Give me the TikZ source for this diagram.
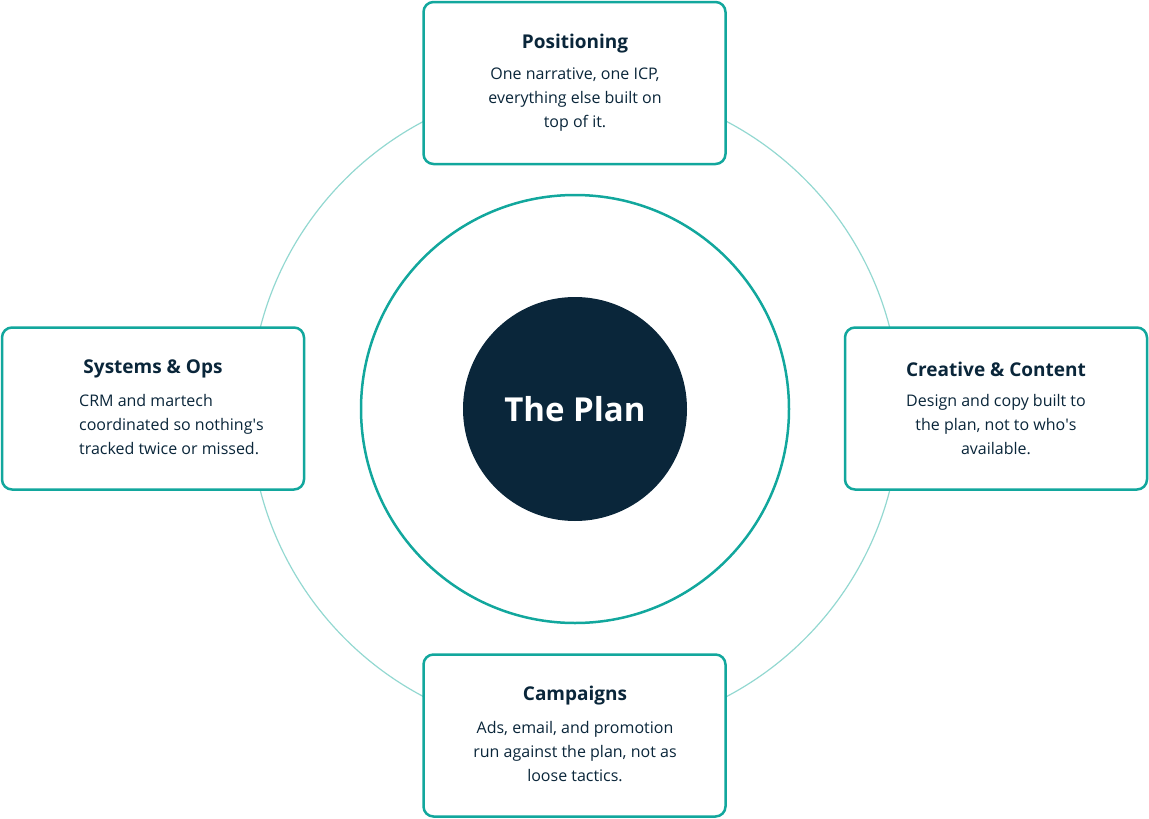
\documentclass[tikz,border=0pt]{standalone}
\usepackage{fontspec}
\setmainfont{Open Sans}
\definecolor{teal}{HTML}{12A79D}
\definecolor{lteal}{HTML}{93D8D1}
\definecolor{navy}{HTML}{0A263A}
\newcommand{\apo}{\textquotesingle}
\begin{document}
\begin{tikzpicture}[x=1pt,y=-1pt,
 box/.style={draw=teal,line width=2.5pt,rounded corners=10pt,fill=white,minimum width=302pt,minimum height=162pt,inner sep=0pt},
 ttl/.style={font=\fontsize{19}{23}\selectfont\bfseries,text=navy},
 body/.style={font=\fontsize{16}{24}\selectfont,text=navy,align=center}]
\useasboundingbox (0,0) rectangle (1149,819);
\draw[lteal,line width=1.2pt] (575,409) circle (325);
\draw[teal,line width=2.5pt] (575,409) circle (214);
\node[circle,fill=navy,minimum size=224pt,inner sep=0pt,text=white,font=\fontsize{33}{36}\selectfont\bfseries] (plan) at (575,409) {The Plan};
\node[box] (pos) at (574.5,83) {};
\node[box] (sys) at (153,408.5) {};
\node[box] (cre) at (996,408.5) {};
\node[box] (cam) at (574.5,735.5) {};
\node[ttl] (posT) at (575,44) {Positioning};
\node[body] (posB) at (575,100) {One narrative, one ICP,\\everything else built on\\top of it.};
\node[ttl] (sysT) at (153,369) {Systems \& Ops};
\node[body,align=left,anchor=west,inner sep=0pt] (sysB) at (79,425) {CRM and martech\\coordinated so nothing\apo s\\tracked twice or missed.};
\node[ttl] (creT) at (996,369) {Creative \& Content};
\node[body] (creB) at (996,425) {Design and copy built to\\the plan, not to who\apo s\\available.};
\node[ttl] (camT) at (575,696) {Campaigns};
\node[body] (camB) at (575,752) {Ads, email, and promotion\\run against the plan, not as\\loose tactics.};
\end{tikzpicture}
\end{document}
